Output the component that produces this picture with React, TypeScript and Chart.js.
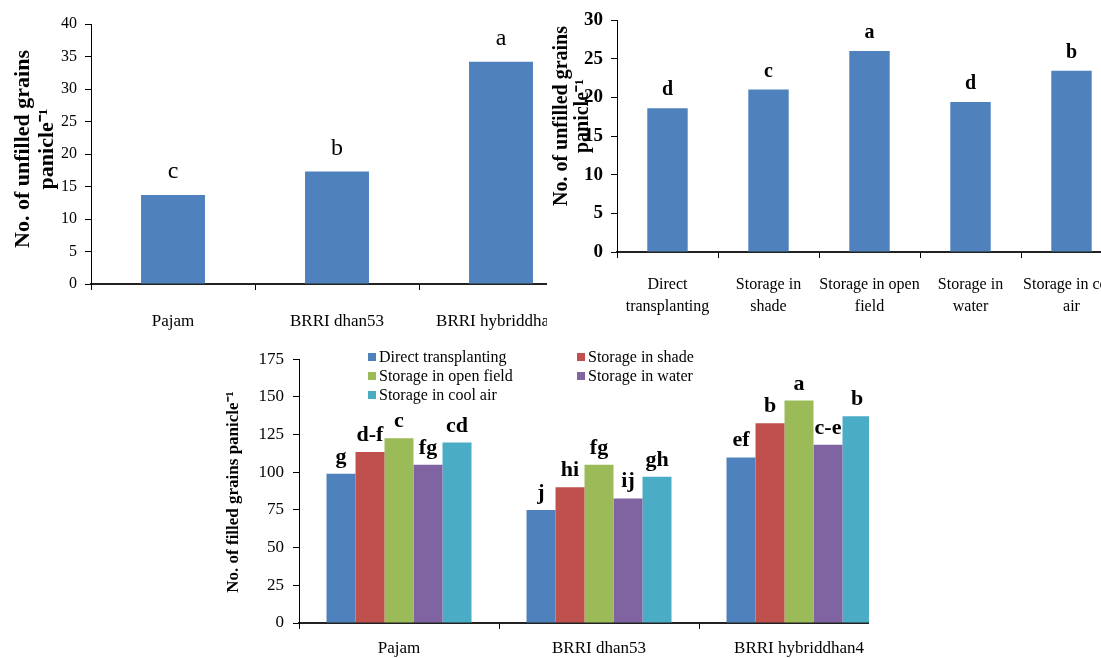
import React, { useEffect, useRef } from 'react';
import { Chart, registerables } from 'chart.js';

Chart.register(...registerables);

const SERIF = "'Liberation Serif', 'Times New Roman', serif";

// ---------- Data ----------
const varieties = ['Pajam', 'BRRI dhan53', 'BRRI hybriddhan4'];
const unfilledByVariety = [13.7, 17.3, 34.2];
const unfilledVarietyLetters = ['c', 'b', 'a'];
const unfilledVarietyTicks = [0, 5, 10, 15, 20, 25, 30, 35, 40];

const treatments = [
  'Direct transplanting',
  'Storage in shade',
  'Storage in open field',
  'Storage in water',
  'Storage in cool air',
];
const treatmentTickLines = [
  ['Direct', 'transplanting'],
  ['Storage in', 'shade'],
  ['Storage in open', 'field'],
  ['Storage in', 'water'],
  ['Storage in cool', 'air'],
];
const unfilledByTreatment = [18.6, 21.0, 26.0, 19.4, 23.45];
const unfilledTreatmentLetters = ['d', 'c', 'a', 'd', 'b'];
const unfilledTreatmentTicks = [0, 5, 10, 15, 20, 25, 30];

const filledDirect = [99.0, 74.9, 109.8];
const filledShade = [113.5, 90.0, 132.5];
const filledOpenField = [122.5, 105.0, 147.6];
const filledWater = [105.0, 82.6, 118.3];
const filledCoolAir = [119.7, 97.1, 137.2];
const filledLetters = [
  ['g', 'j', 'ef'],
  ['d-f', 'hi', 'b'],
  ['c', 'fg', 'a'],
  ['fg', 'ij', 'c-e'],
  ['cd', 'gh', 'b'],
];
const filledTicks = [0, 25, 50, 75, 100, 125, 150, 175];
const seriesColors = ['#4F81BD', '#C0504D', '#9BBB59', '#8064A2', '#4BACC6'];

// ---------- Plugins ----------
function yTitlePlugin(lines: string[], xs: number[], yc: number, font: string) {
  return {
    id: 'ytitle',
    afterDraw(chart: any) {
      const ctx = chart.ctx;
      ctx.save();
      ctx.font = font;
      ctx.fillStyle = '#000';
      ctx.textAlign = 'center';
      ctx.textBaseline = 'middle';
      lines.forEach((line, i) => {
        ctx.save();
        ctx.translate(xs[i], yc);
        ctx.rotate(-Math.PI / 2);
        ctx.fillText(line, 0, 0);
        ctx.restore();
      });
      ctx.restore();
    },
  };
}

function lettersPlugin(letters: string[][], font: string, gap: number) {
  return {
    id: 'letters',
    afterDatasetsDraw(chart: any) {
      const ctx = chart.ctx;
      ctx.save();
      ctx.font = font;
      ctx.fillStyle = '#000';
      ctx.textAlign = 'center';
      ctx.textBaseline = 'alphabetic';
      chart.data.datasets.forEach((_: any, di: number) => {
        const meta = chart.getDatasetMeta(di);
        meta.data.forEach((el: any, i: number) => {
          const t = letters[di] && letters[di][i];
          if (t) ctx.fillText(t, el.x, el.y - gap);
        });
      });
      ctx.restore();
    },
  };
}

function legendPlugin(colX: number[], rowY: number[], font: string) {
  return {
    id: 'customLegend',
    afterDraw(chart: any) {
      const ctx = chart.ctx;
      ctx.save();
      ctx.font = font;
      ctx.textAlign = 'left';
      ctx.textBaseline = 'middle';
      chart.data.datasets.forEach((ds: any, i: number) => {
        const x = colX[i % 2];
        const y = rowY[Math.floor(i / 2)];
        ctx.fillStyle = ds.backgroundColor;
        ctx.fillRect(x, y - 4, 8, 8);
        ctx.fillStyle = '#000';
        ctx.fillText(ds.label, x + 11, y + 1);
      });
      ctx.restore();
    },
  };
}

// ---------- Axis helpers ----------
function yAxis(ticks: number[], width: number, font: any, pad: number) {
  return {
    min: ticks[0],
    max: ticks[ticks.length - 1],
    afterFit: (s: any) => {
      s.width = width;
    },
    ticks: { stepSize: ticks[1] - ticks[0], font, color: '#000', padding: pad },
    grid: { display: true, drawOnChartArea: false, drawTicks: true, tickLength: 6, tickColor: '#000', lineWidth: 1 },
    border: { display: true, color: '#000', width: 1 },
  };
}

function xAxis(height: number, font: any, pad: number, callback?: any) {
  return {
    type: 'category',
    afterFit: (s: any) => {
      s.height = height;
    },
    ticks: {
      font,
      color: '#000',
      padding: pad,
      maxRotation: 0,
      minRotation: 0,
      autoSkip: false,
      ...(callback ? { callback } : {}),
    },
    grid: { display: true, drawOnChartArea: false, drawTicks: true, tickLength: 6, tickColor: '#000', offset: true },
    border: { display: true, color: '#222', width: 2 },
  };
}

const baseOptions = {
  responsive: false,
  animation: false,
  devicePixelRatio: 1,
  events: [],
};

// ---------- Configs ----------
function configVariety() {
  return {
    type: 'bar',
    data: {
      labels: varieties,
      datasets: [
        {
          label: 'Unfilled grains',
          data: unfilledByVariety,
          backgroundColor: seriesColors[0],
          barPercentage: 0.39,
          categoryPercentage: 1,
        },
      ],
    },
    options: {
      ...baseOptions,
      layout: { padding: { left: 0, top: 24, right: 17, bottom: 0 } },
      plugins: { legend: { display: false }, tooltip: { enabled: false } },
      scales: {
        x: xAxis(56, { family: SERIF, size: 17, lineHeight: 1.2 }, 21),
        y: yAxis(unfilledVarietyTicks, 91, { family: SERIF, size: 16 }, 8),
      },
    },
    plugins: [
      yTitlePlugin(['No. of unfilled grains', 'panicle\u207B\u00B9'], [23, 47], 149, `bold 22px ${SERIF}`),
      lettersPlugin([unfilledVarietyLetters], `24px ${SERIF}`, 17),
    ],
  };
}

function configTreatment() {
  return {
    type: 'bar',
    data: {
      labels: treatments,
      datasets: [
        {
          label: 'Unfilled grains',
          data: unfilledByTreatment,
          backgroundColor: seriesColors[0],
          barPercentage: 0.4,
          categoryPercentage: 1,
        },
      ],
    },
    options: {
      ...baseOptions,
      layout: { padding: { left: 0, top: 20, right: 25, bottom: 0 } },
      plugins: { legend: { display: false }, tooltip: { enabled: false } },
      scales: {
        x: xAxis(88, { family: SERIF, size: 16, lineHeight: 1.375 }, 16, (_v: any, i: number) => treatmentTickLines[i]),
        y: yAxis(unfilledTreatmentTicks, 70, { family: SERIF, size: 19, weight: 'bold' }, 8),
      },
    },
    plugins: [
      yTitlePlugin(['No. of unfilled grains', 'panicle\u207B\u00B9'], [15, 36], 116, `bold 20px ${SERIF}`),
      lettersPlugin([unfilledTreatmentLetters], `bold 20px ${SERIF}`, 13),
    ],
  };
}

function configFilled() {
  const series = [filledDirect, filledShade, filledOpenField, filledWater, filledCoolAir];
  return {
    type: 'bar',
    data: {
      labels: varieties,
      datasets: series.map((d, i) => ({
        label: treatments[i],
        data: d,
        backgroundColor: seriesColors[i],
        barPercentage: 1,
        categoryPercentage: 0.725,
      })),
    },
    options: {
      ...baseOptions,
      layout: { padding: { left: 0, top: 12.5, right: 21, bottom: 0 } },
      plugins: { legend: { display: false }, tooltip: { enabled: false } },
      scales: {
        x: xAxis(35, { family: SERIF, size: 17, lineHeight: 1.2 }, 9),
        y: yAxis(filledTicks, 99, { family: SERIF, size: 17 }, 9),
      },
    },
    plugins: [
      yTitlePlugin(['No. of filled grains panicle\u207B\u00B9'], [34], 152, `bold 17px ${SERIF}`),
      lettersPlugin(filledLetters, `bold 22px ${SERIF}`, 11),
      legendPlugin([168, 377], [17, 36, 55], `16px ${SERIF}`),
    ],
  };
}

// ---------- Components ----------
function ChartBox(props: {
  left: number;
  top: number;
  clipW: number;
  clipH: number;
  canvasW: number;
  canvasH: number;
  make: () => any;
}) {
  const ref = useRef<HTMLCanvasElement | null>(null);
  useEffect(() => {
    if (!ref.current) return;
    const chart = new Chart(ref.current, props.make());
    return () => chart.destroy();
  }, []);
  return (
    <div
      style={{
        position: 'absolute',
        left: props.left,
        top: props.top,
        width: props.clipW,
        height: props.clipH,
        overflow: 'hidden',
      }}
    >
      <canvas
        ref={ref}
        width={props.canvasW}
        height={props.canvasH}
        style={{ display: 'block', width: props.canvasW, height: props.canvasH }}
      />
    </div>
  );
}

export default function App() {
  return (
    <div
      style={{
        position: 'absolute',
        left: 0,
        top: 0,
        width: 1101,
        height: 658,
        background: '#fff',
        overflow: 'hidden',
      }}
    >
      <ChartBox left={0} top={0} clipW={547} clipH={340} canvasW={600} canvasH={340} make={configVariety} />
      <ChartBox left={547} top={0} clipW={554} clipH={340} canvasW={600} canvasH={340} make={configTreatment} />
      <ChartBox left={200} top={340} clipW={669} clipH={318} canvasW={720} canvasH={318} make={configFilled} />
    </div>
  );
}
